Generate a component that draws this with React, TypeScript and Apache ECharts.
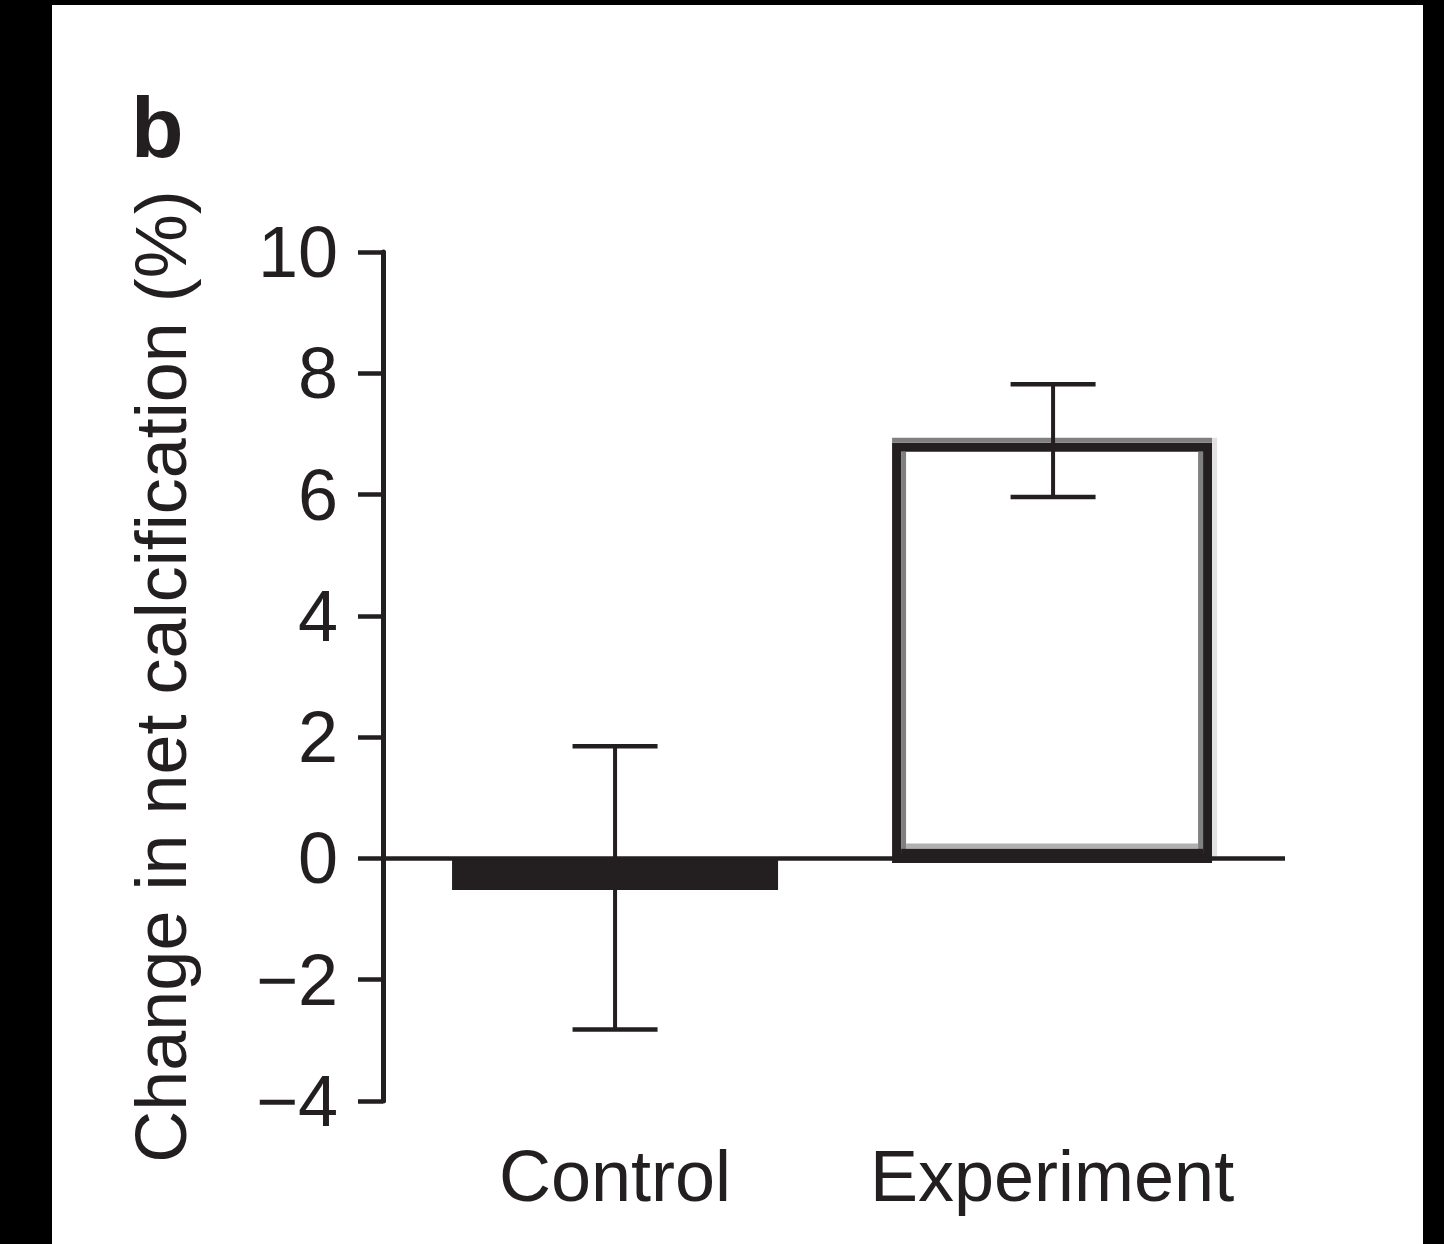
import React, { useEffect, useRef } from "react";
import * as echarts from "echarts";

// ---- data ----
const categories = ["Control", "Experiment"];
const positions = [1, 2];
const means = [-0.52, 6.78];
const upperErr = [1.85, 7.82];
const lowerErr = [-2.82, 5.96];
const yMin = -4;
const yMax = 10;
const yStep = 2;
const yAxisTitle = "Change in net calcification (%)";
const panelLabel = "b";

const INK = "#231f20";
const FONT = "'Liberation Sans', Arial, Helvetica, sans-serif";

export default function App() {
  const ref = useRef<HTMLDivElement>(null);

  useEffect(() => {
    if (!ref.current) return;
    const chart = echarts.init(ref.current, null, { renderer: "svg" });
    const data = categories.map((c, i) => [positions[i], means[i], lowerErr[i], upperErr[i], i]);

    const renderItem = (params: any, api: any) => {
      const x = api.value(0);
      const v = api.value(1);
      const lo = api.value(2);
      const hi = api.value(3);
      const idx = api.value(4);
      const base = api.coord([x, 0]);
      const top = api.coord([x, v]);
      const pLo = api.coord([x, lo]);
      const pHi = api.coord([x, hi]);
      const children: any[] = [];
      const cx = base[0];
      if (idx === 0) {
        const w = 326;
        children.push({
          type: "rect",
          shape: { x: cx - w / 2, y: Math.min(base[1], top[1]), width: w, height: Math.abs(top[1] - base[1]) },
          style: { fill: INK },
        });
      } else {
        const w = 311;
        const l = cx - w / 2;
        const r = cx + w / 2;
        const t = top[1];
        const b = base[1];
        children.push({
          type: "rect",
          shape: { x: l, y: t, width: w, height: b - t },
          style: { fill: "#ffffff", stroke: INK, lineWidth: 9 },
        });
        // print/scan artefacts around the outlined bar
        children.push({ type: "line", shape: { x1: l - 4.5, y1: t - 7, x2: r + 4.5, y2: t - 7 }, style: { stroke: "#808080", lineWidth: 5 } });
        children.push({ type: "line", shape: { x1: r + 7, y1: t - 9.5, x2: r + 7, y2: b + 2 }, style: { stroke: "#e2e2e2", lineWidth: 5 } });
        children.push({ type: "line", shape: { x1: l + 7, y1: t + 4.5, x2: l + 7, y2: b - 10 }, style: { stroke: "#808080", lineWidth: 5 } });
        children.push({ type: "line", shape: { x1: r - 7, y1: t + 4.5, x2: r - 7, y2: b - 10 }, style: { stroke: "#808080", lineWidth: 5 } });
        children.push({ type: "line", shape: { x1: l + 4.5, y1: b - 7, x2: r - 4.5, y2: b - 7 }, style: { stroke: INK, lineWidth: 6 } });
        children.push({ type: "line", shape: { x1: l + 9.5, y1: b - 12.5, x2: r - 9.5, y2: b - 12.5 }, style: { stroke: "#b0b0b0", lineWidth: 5 } });
      }
      const cap = 85;
      const ex = idx === 0 ? cx : cx + 1;
      children.push({ type: "line", shape: { x1: ex, y1: pHi[1], x2: ex, y2: pLo[1] }, style: { stroke: INK, lineWidth: 4 } });
      children.push({ type: "line", shape: { x1: ex - cap / 2, y1: pHi[1], x2: ex + cap / 2, y2: pHi[1] }, style: { stroke: INK, lineWidth: 4.5 } });
      children.push({ type: "line", shape: { x1: ex - cap / 2, y1: pLo[1], x2: ex + cap / 2, y2: pLo[1] }, style: { stroke: INK, lineWidth: 4.5 } });
      return { type: "group", children };
    };

    chart.setOption({
      animation: false,
      backgroundColor: "#ffffff",
      title: {
        text: panelLabel,
        left: 131,
        top: 84,
        padding: 0,
        textStyle: { fontSize: 86, fontWeight: "bold", fontFamily: FONT, color: INK },
      },
      grid: { left: 383, top: 252, width: 902, height: 849, containLabel: false, outerBoundsMode: "none" },
      xAxis: {
        type: "value",
        min: 0.469,
        max: 2.533,
        axisLine: { show: false, onZero: false },
        axisTick: { show: false },
        splitLine: { show: false },
        axisLabel: {
          customValues: positions,
          formatter: (val: number) => {
            const i = positions.indexOf(Math.round(val * 1000) / 1000);
            return i >= 0 ? categories[i] : "";
          },
          fontSize: 72,
          fontFamily: FONT,
          color: INK,
          margin: 39,
        },
      },
      yAxis: {
        type: "value",
        min: yMin,
        max: yMax,
        interval: yStep,
        name: yAxisTitle,
        nameLocation: "middle",
        nameRotate: 90,
        nameGap: 186,
        nameTextStyle: { fontSize: 72, fontFamily: FONT, color: INK },
        axisLine: { show: true, lineStyle: { color: INK, width: 5 } },
        axisTick: { show: true, length: 25, lineStyle: { color: INK, width: 4.5 } },
        splitLine: { show: false },
        axisLabel: {
          fontSize: 72,
          fontFamily: FONT,
          color: INK,
          margin: 45,
          padding: [0, 0, 8, 0],
          formatter: (val: number) => (val < 0 ? "\u2212" + Math.abs(val) : String(val)),
        },
      },
      series: [
        {
          type: "custom",
          renderItem,
          data,
          encode: { x: 0, y: 1 },
          markLine: {
            silent: true,
            symbol: ["none", "none"],
            label: { show: false },
            lineStyle: { color: INK, width: 4.5, type: "solid" },
            emphasis: { disabled: true },
            data: [{ yAxis: 0 }],
          },
        },
      ],
    });
    return () => chart.dispose();
  }, []);

  return (
    <div style={{ position: "fixed", left: 0, top: 0, width: 1444, height: 1244, background: "#000" }}>
      <div ref={ref} style={{ position: "absolute", left: 0, top: 0, width: 1444, height: 1244 }} />
      <div
        style={{
          position: "absolute",
          left: 0,
          top: 0,
          width: 1444,
          height: 1244,
          boxSizing: "border-box",
          borderLeft: "52px solid #000",
          borderTop: "5px solid #000",
          borderRight: "21px solid #000",
          pointerEvents: "none",
        }}
      />
    </div>
  );
}
